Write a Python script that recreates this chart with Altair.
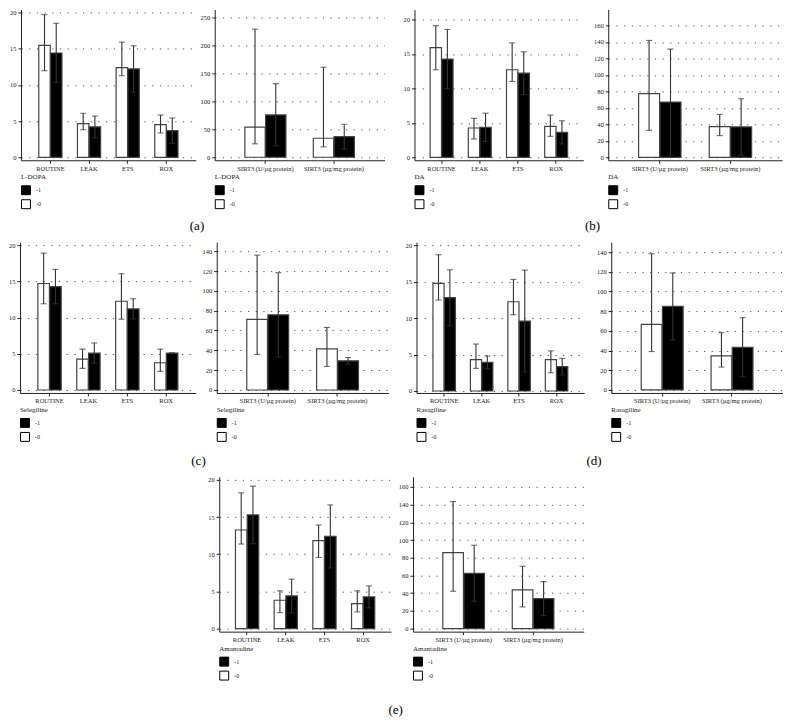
import altair as alt
import pandas as pd

FONT = "Liberation Serif"

MITO_CATS = ["ROUTINE", "LEAK", "ETS", "ROX"]
SIRT_CATS = ["SIRT3 (U/µg protein)", "SIRT3 (µg/mg protein)"]
GROUP_ORDER = ["-0", "-1"]       # white bar left, black bar right
LEGEND_ORDER = ["-1", "-0"]

# ---- L-DOPA ----
LDOPA_MITO_0 = [15.45, 4.65, 12.37, 4.5]
LDOPA_MITO_0_LO = [11.95, 3.8, 11.26, 3.36]
LDOPA_MITO_0_HI = [19.7, 6.07, 15.9, 5.84]
LDOPA_MITO_1 = [14.4, 4.2, 12.2, 3.68]
LDOPA_MITO_1_LO = [10.3, 2.7, 9.0, 1.93]
LDOPA_MITO_1_HI = [18.5, 5.7, 15.4, 5.43]
LDOPA_SIRT_0 = [54.0, 34.0]
LDOPA_SIRT_0_LO = [24.0, 18.5]
LDOPA_SIRT_0_HI = [229.0, 161.0]
LDOPA_SIRT_1 = [75.6, 37.0]
LDOPA_SIRT_1_LO = [20.0, 15.0]
LDOPA_SIRT_1_HI = [131.6, 59.0]

# ---- DA ----
DA_MITO_0 = [15.9, 4.25, 12.7, 4.5]
DA_MITO_0_LO = [12.7, 2.65, 11.0, 3.04]
DA_MITO_0_HI = [19.1, 5.65, 16.6, 6.13]
DA_MITO_1 = [14.25, 4.35, 12.2, 3.62]
DA_MITO_1_LO = [9.95, 2.3, 9.1, 1.94]
DA_MITO_1_HI = [18.55, 6.4, 15.3, 5.3]
DA_SIRT_0 = [77.2, 37.2]
DA_SIRT_0_LO = [32.7, 26.3]
DA_SIRT_0_HI = [141.8, 52.0]
DA_SIRT_1 = [67.0, 36.8]
DA_SIRT_1_LO = [2.7, 2.6]
DA_SIRT_1_HI = [131.3, 71.0]

# ---- Selegiline ----
SEL_MITO_0 = [14.7, 4.27, 12.25, 3.76]
SEL_MITO_0_LO = [11.9, 2.98, 9.77, 2.57]
SEL_MITO_0_HI = [18.9, 5.64, 16.05, 5.64]
SEL_MITO_1 = [14.27, 5.09, 11.19, 5.09]
SEL_MITO_1_LO = [11.9, 3.7, 9.8, 5.04]
SEL_MITO_1_HI = [16.65, 6.5, 12.6, 5.14]
SEL_SIRT_0 = [71.2, 41.4]
SEL_SIRT_0_LO = [35.8, 23.7]
SEL_SIRT_0_HI = [136.0, 63.1]
SEL_SIRT_1 = [75.8, 29.4]
SEL_SIRT_1_LO = [33.3, 26.1]
SEL_SIRT_1_HI = [118.3, 32.7]

# ---- Rasagiline ----
RAS_MITO_0 = [14.75, 4.29, 12.24, 4.29]
RAS_MITO_0_LO = [12.47, 3.1, 10.46, 2.5]
RAS_MITO_0_HI = [18.68, 6.44, 15.3, 5.5]
RAS_MITO_1 = [12.79, 3.93, 9.59, 3.33]
RAS_MITO_1_LO = [8.96, 3.06, 2.6, 2.19]
RAS_MITO_1_HI = [16.62, 4.8, 16.58, 4.47]
RAS_SIRT_0 = [66.6, 34.7]
RAS_SIRT_0_LO = [39.0, 23.2]
RAS_SIRT_0_HI = [138.3, 58.2]
RAS_SIRT_1 = [84.8, 43.4]
RAS_SIRT_1_LO = [50.8, 13.4]
RAS_SIRT_1_HI = [118.8, 73.4]

# ---- Amantadine ----
AMA_MITO_0 = [13.26, 3.82, 11.82, 3.37]
AMA_MITO_0_LO = [11.37, 2.16, 9.57, 2.25]
AMA_MITO_0_HI = [18.25, 5.08, 13.93, 5.08]
AMA_MITO_1 = [15.28, 4.4, 12.4, 4.27]
AMA_MITO_1_LO = [11.41, 2.15, 8.17, 2.79]
AMA_MITO_1_HI = [19.15, 6.65, 16.63, 5.75]
AMA_SIRT_0 = [85.8, 43.7]
AMA_SIRT_0_LO = [42.2, 24.5]
AMA_SIRT_0_HI = [143.4, 70.4]
AMA_SIRT_1 = [62.5, 33.9]
AMA_SIRT_1_LO = [30.9, 14.7]
AMA_SIRT_1_HI = [94.1, 53.1]

MITO_TICKS = [0, 5, 10, 15, 20]


def make_df(cats, m0, lo0, hi0, m1, lo1, hi1):
    rows = []
    for i, c in enumerate(cats):
        rows.append({"cat": c, "grp": "-0", "mean": m0[i], "lo": lo0[i], "hi": hi0[i]})
        rows.append({"cat": c, "grp": "-1", "mean": m1[i], "lo": lo1[i], "hi": hi1[i]})
    return pd.DataFrame(rows)


def panel(df, cats, drug, width, height, domain, ticks, p_outer):
    base = alt.Chart(df)
    x = alt.X("cat:N", sort=cats,
              scale=alt.Scale(paddingInner=0.4, paddingOuter=p_outer),
              axis=alt.Axis(title=None, labelAngle=0, tickSize=3, labelFontSize=6.5,
                            labelPadding=2, grid=False, domainColor="#222",
                            tickColor="#222", labelColor="#222", labelFont=FONT))
    xo = alt.XOffset("grp:N", sort=GROUP_ORDER,
                     scale=alt.Scale(paddingInner=0.02, paddingOuter=0))
    yscale = alt.Scale(domain=domain, nice=False, zero=False)
    yaxis = alt.Axis(title=None, values=ticks, grid=True, gridDash=[1.2, 6.5],
                     gridColor="#555", gridWidth=1, tickSize=3, labelFontSize=6.5,
                     labelPadding=2, domainColor="#222", tickColor="#222",
                     labelColor="#222", labelFont=FONT, labelOverlap=False,
                     labelFlush=False)
    bars = base.mark_bar(stroke="#444", strokeWidth=1.2).encode(
        x=x, xOffset=xo,
        y=alt.Y("mean:Q", scale=yscale, axis=yaxis),
        fill=alt.Fill("grp:N",
                      scale=alt.Scale(domain=LEGEND_ORDER, range=["#000000", "#ffffff"]),
                      legend=alt.Legend(title=drug, orient="none", legendX=0,
                                        legendY=height + 13, direction="vertical",
                                        titleFont=FONT, titleFontSize=7,
                                        titleFontWeight="normal", titleColor="#222",
                                        titlePadding=5, labelFont=FONT, labelFontSize=6,
                                        labelColor="#222", symbolType="square",
                                        symbolSize=80, symbolStrokeColor="#000",
                                        symbolStrokeWidth=1, rowPadding=0,
                                        labelOffset=5)),
    )
    rule = base.mark_rule(color="#333", strokeWidth=1.1).encode(
        x=x, xOffset=xo, y=alt.Y("lo:Q", scale=yscale, axis=yaxis), y2="hi:Q")
    cap_hi = base.mark_tick(color="#333", thickness=1.1, size=6).encode(
        x=x, xOffset=xo, y=alt.Y("hi:Q", scale=yscale, axis=yaxis))
    cap_lo = base.mark_tick(color="#333", thickness=1.1, size=6).encode(
        x=x, xOffset=xo, y=alt.Y("lo:Q", scale=yscale, axis=yaxis))
    return alt.layer(bars, rule, cap_hi, cap_lo).properties(width=width, height=height)


def pair(left, right, label, spacing, offset):
    return alt.hconcat(
        left, right, spacing=spacing,
        title=alt.TitleParams(text=label, orient="bottom", anchor="middle", font=FONT,
                              fontSize=13, fontWeight="normal", color="#000",
                              offset=offset),
    ).resolve_scale(x="independent", y="independent", fill="independent",
                    xOffset="independent").resolve_legend(fill="independent")


H1, H2, H3 = 151, 151, 155

aL = panel(make_df(MITO_CATS, LDOPA_MITO_0, LDOPA_MITO_0_LO, LDOPA_MITO_0_HI,
                   LDOPA_MITO_1, LDOPA_MITO_1_LO, LDOPA_MITO_1_HI),
           MITO_CATS, "L-DOPA", 175, H1, [-0.41, 20.41], MITO_TICKS, 0.46)
aR = panel(make_df(SIRT_CATS, LDOPA_SIRT_0, LDOPA_SIRT_0_LO, LDOPA_SIRT_0_HI,
                   LDOPA_SIRT_1, LDOPA_SIRT_1_LO, LDOPA_SIRT_1_HI),
           SIRT_CATS, "L-DOPA", 170, H1, [-5.4, 264.3], [0, 50, 100, 150, 200, 250], 0.44)
bL = panel(make_df(MITO_CATS, DA_MITO_0, DA_MITO_0_LO, DA_MITO_0_HI,
                   DA_MITO_1, DA_MITO_1_LO, DA_MITO_1_HI),
           MITO_CATS, "DA", 169, H1, [-0.43, 21.45], MITO_TICKS, 0.41)
bR = panel(make_df(SIRT_CATS, DA_SIRT_0, DA_SIRT_0_LO, DA_SIRT_0_HI,
                   DA_SIRT_1, DA_SIRT_1_LO, DA_SIRT_1_HI),
           SIRT_CATS, "DA", 174, H1, [-3.6, 179.4], list(range(0, 161, 20)), 0.43)

cL = panel(make_df(MITO_CATS, SEL_MITO_0, SEL_MITO_0_LO, SEL_MITO_0_HI,
                   SEL_MITO_1, SEL_MITO_1_LO, SEL_MITO_1_HI),
           MITO_CATS, "Selegiline", 176, H2, [-0.41, 20.41], MITO_TICKS, 0.46)
cR = panel(make_df(SIRT_CATS, SEL_SIRT_0, SEL_SIRT_0_LO, SEL_SIRT_0_HI,
                   SEL_SIRT_1, SEL_SIRT_1_LO, SEL_SIRT_1_HI),
           SIRT_CATS, "Selegiline", 172, H2, [-3.0, 149.1], list(range(0, 141, 20)), 0.43)
dL = panel(make_df(MITO_CATS, RAS_MITO_0, RAS_MITO_0_LO, RAS_MITO_0_HI,
                   RAS_MITO_1, RAS_MITO_1_LO, RAS_MITO_1_HI),
           MITO_CATS, "Rasagiline", 168, H2, [-0.27, 20.41], MITO_TICKS, 0.44)
dR = panel(make_df(SIRT_CATS, RAS_SIRT_0, RAS_SIRT_0_LO, RAS_SIRT_0_HI,
                   RAS_SIRT_1, RAS_SIRT_1_LO, RAS_SIRT_1_HI),
           SIRT_CATS, "Rasagiline", 172, H2, [-3.04, 150.1], list(range(0, 141, 20)), 0.43)

eL = panel(make_df(MITO_CATS, AMA_MITO_0, AMA_MITO_0_LO, AMA_MITO_0_HI,
                   AMA_MITO_1, AMA_MITO_1_LO, AMA_MITO_1_HI),
           MITO_CATS, "Amantadine", 172, H3, [-0.4, 20.4], MITO_TICKS, 0.42)
eR = panel(make_df(SIRT_CATS, AMA_SIRT_0, AMA_SIRT_0_LO, AMA_SIRT_0_HI,
                   AMA_SIRT_1, AMA_SIRT_1_LO, AMA_SIRT_1_HI),
           SIRT_CATS, "Amantadine", 171, H3, [-3.4, 171.3], list(range(0, 161, 20)), 0.43)

RES = dict(x="independent", y="independent", fill="independent", xOffset="independent")

row1 = alt.hconcat(pair(aL, aR, "(a)", 4, 9), pair(bL, bR, "(b)", 10, 9), spacing=18) \
    .resolve_scale(**RES).resolve_legend(fill="independent")
row2 = alt.hconcat(pair(cL, cR, "(c)", 6, 11), pair(dL, dR, "(d)", 12, 11), spacing=16) \
    .resolve_scale(**RES).resolve_legend(fill="independent")
row3 = pair(eL, eR, "(e)", 7, 21)

chart = alt.vconcat(row1, row2, row3, spacing=8, center=True) \
    .resolve_scale(**RES).resolve_legend(fill="independent") \
    .properties(padding=0, background="white") \
    .configure_view(stroke=None)

chart.save("out.html", embed_options={"renderer": "svg", "actions": False})
